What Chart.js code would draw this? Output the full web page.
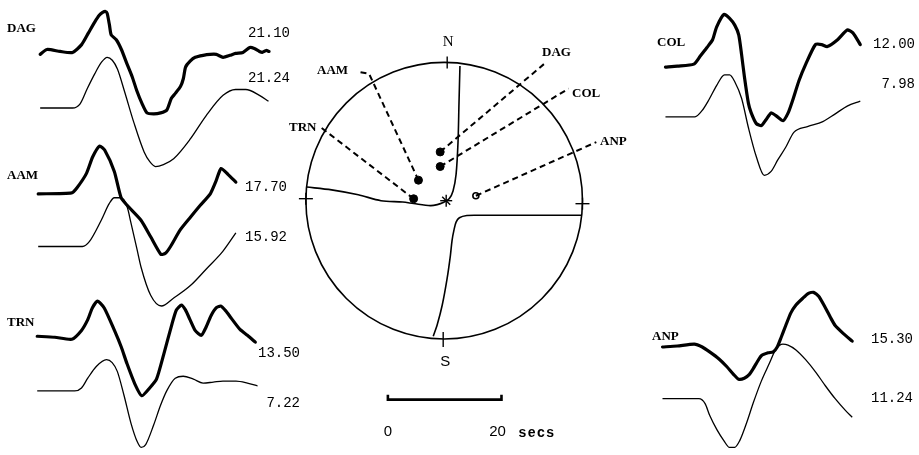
<!DOCTYPE html>
<html>
<head>
<meta charset="utf-8">
<script src="https://cdn.jsdelivr.net/npm/chart.js@4/dist/chart.umd.min.js"></script>
<style>
  html, body { margin: 0; padding: 0; background: #fff; }
  canvas { display: block; }
</style>
</head>
<body>
<canvas id="fig" width="919" height="455"></canvas>
<script>
// P waveforms: [time (s) from trace start, relative amplitude]
// heavy = observed record, light = synthetic
const DAG_OBS = [[0,0],[1.2,5],[3.5,3],[5.7,2],[7.3,10],[8.5,22],[9.6,33],[10.4,40],[11.0,43],[11.5,44],[11.8,42],[12.2,30],[12.5,20],[13.4,15],[14.3,5],[15.3,-10],[16.2,-23],[17.0,-37],[17.9,-50],[18.8,-60],[20.0,-61],[21.2,-60],[22.3,-57],[23.1,-45],[23.8,-40],[24.7,-33],[25.2,-25],[25.6,-13],[26.4,-7],[27.3,-3],[28.7,-1],[29.9,0],[31.0,0],[32.2,-3],[33.4,-1],[34.4,1],[35.7,2],[36.9,7],[37.7,6],[38.6,3],[39.1,2],[39.8,4],[40.3,3]];
const DAG_SYN = [[0,0],[5.7,0],[7.0,4],[8.3,20],[9.6,35],[10.8,47],[11.8,52],[12.7,49],[13.6,40],[14.8,18],[16.5,-15],[18.3,-45],[19.3,-55],[20.3,-60],[21.7,-58],[23.5,-52],[26.4,-32],[29.2,-8],[32.2,13],[34.4,19],[36.2,19],[38.6,13],[40.2,7]];

const AAM_OBS = [[0,0],[5.9,1],[6.8,6],[8.5,21],[9.6,38],[10.8,49],[11.7,45],[13.4,23],[14.6,-4],[15.7,-12],[18.1,-27],[19.8,-44],[21.6,-62],[22.4,-61],[23.3,-54],[25.0,-37],[26.8,-24],[28.5,-12],[30.3,0],[31.3,13],[32.2,26],[33.4,20],[34.8,12]];
const AAM_SYN = [[0,0],[7.8,0],[9.0,5],[11.1,27],[12.5,44],[13.4,50],[14.6,50],[15.7,40],[16.3,25],[17.4,-3],[18.1,-21],[19.8,-50],[21.7,-61],[23.8,-53],[26.8,-40],[29.6,-23],[32.5,-5],[34.8,14]];

const TRN_OBS = [[0,0],[3.1,-1],[6.1,-3],[7.8,6],[8.9,17],[9.7,29],[10.6,36],[11.8,29],[13.6,6],[14.8,-11],[15.8,-28],[17.2,-49],[18.4,-61],[19.8,-53],[21.0,-44],[22.3,-18],[23.7,12],[24.5,27],[25.4,32],[26.1,27],[26.9,17],[27.8,6],[28.9,1],[29.7,9],[30.6,21],[31.5,29],[32.3,31],[33.2,26],[34.1,19],[35.7,7],[37.0,1],[38.4,-6]];
const TRN_SYN = [[0,0],[6.6,0],[7.8,3],[8.9,13],[10.4,25],[12.2,32],[13.2,29],[14.1,20],[15.3,-5],[16.5,-33],[17.6,-52],[18.3,-58],[19.1,-55],[20.5,-35],[21.7,-15],[22.8,0],[24.3,13],[25.7,15],[27.5,12],[29.2,8],[31.0,9],[32.7,10],[35.0,10],[37.0,8],[38.8,5]];

const COL_OBS = [[0,0],[2.1,1],[5.0,3],[6.1,11],[7.3,20],[8.3,28],[9.0,41],[10.3,54],[11.3,50],[12.2,43],[12.9,33],[13.4,13],[13.9,-10],[14.6,-37],[15.1,-47],[16.0,-58],[16.9,-60],[17.7,-54],[18.6,-47],[19.5,-50],[20.7,-55],[21.6,-47],[22.4,-34],[23.5,-14],[24.7,3],[26.4,23],[27.5,23],[28.5,21],[30.3,28],[32.0,38],[33.0,35],[34.3,23]];
const COL_SYN = [[0,0],[5.2,0],[6.4,6],[7.7,18],[9.0,32],[10.4,43],[11.3,43],[12.2,36],[13.4,19],[14.6,-11],[16.0,-41],[17.4,-60],[18.6,-56],[19.8,-44],[21.2,-31],[22.6,-16],[25.0,-10],[27.7,-5],[29.9,3],[32.0,11],[34.3,16]];

const ANP_OBS = [[0,0],[2.6,1],[5.6,3],[7.0,0],[8.3,-5],[9.9,-12],[11.3,-20],[12.5,-28],[13.4,-33],[14.4,-32],[15.3,-28],[16.0,-22],[16.5,-17],[17.4,-9],[18.6,-6],[19.5,-5],[20.2,0],[20.9,10],[21.7,22],[22.6,35],[23.5,43],[24.7,50],[25.7,55],[26.6,56],[27.5,52],[28.7,40],[29.6,30],[30.4,22],[31.8,14],[33.4,6]];
const ANP_SYN = [[0,0],[6.4,0],[7.5,-5],[8.3,-17],[9.6,-32],[10.8,-43],[11.8,-50],[12.7,-50],[13.6,-43],[14.8,-25],[16.0,-4],[17.4,18],[18.8,36],[20.0,51],[21.2,56],[22.1,55],[23.5,50],[25.2,40],[27.0,27],[28.7,13],[30.4,0],[32.2,-12],[33.4,-19]];

// Stations and peak-to-peak amplitudes printed beside each trace
const STATIONS = ['DAG', 'AAM', 'TRN', 'COL', 'ANP'];
const OBS_AMPLITUDE = [21.10, 17.70, 13.50, 12.00, 15.30];
const SYN_AMPLITUDE = [21.24, 15.92, 7.22, 7.98, 11.24];

// Focal sphere (lower hemisphere, unit radius): nodal planes and station positions
const NODAL_PLANE_1 = [[0.114,0.986],[0.107,0.714],[0.100,0.429],[0.086,0.193],[0.064,0.071],[0.036,0.014],[-0.007,-0.014],[-0.050,-0.029],[-0.100,-0.036],[-0.221,-0.021],[-0.300,-0.010],[-0.457,0.000],[-0.621,0.043],[-0.814,0.079],[-0.995,0.100]];
const NODAL_PLANE_2 = [[0.994,-0.107],[0.564,-0.107],[0.250,-0.107],[0.164,-0.109],[0.110,-0.125],[0.086,-0.157],[0.071,-0.214],[0.057,-0.290],[0.045,-0.400],[0.021,-0.571],[-0.014,-0.764],[-0.050,-0.907],[-0.079,-0.993]];
const STATION_POINTS = { DAG: [-0.029,0.357], COL: [-0.029,0.250], AAM: [-0.186,0.150], TRN: [-0.221,0.014], ANP: [0.229,0.036] };
const DILATATION = ['ANP'];   // open symbol
const LEADER_ENDS = { DAG: [[0.721,1.000]], COL: [[0.900,0.821]], ANP: [[1.100,0.429]], AAM: [[-0.543,0.929],[-0.614,0.943]], TRN: [[-0.900,0.543]] };

// Time scale bar
const SCALE_BAR_SECS = [0, 20];

// ---- layout ----
const W = 919, H = 455;
const PX_PER_SEC = 5.75;
const PANELS = {
  DAG: { x0: 35,  base: 50,  gap: 55, name: [7, 29],   obsLab: [290, 33],  synLab: [290, 78] },
  AAM: { x0: 33,  base: 193, gap: 54, name: [7, 176],  obsLab: [287, 187], synLab: [287, 237] },
  TRN: { x0: 32,  base: 339, gap: 56, name: [7, 323],  obsLab: [300, 353], synLab: [300, 403] },
  COL: { x0: 668, base: 63,  gap: 51, name: [657, 43], obsLab: [915, 44],  synLab: [915, 84] },
  ANP: { x0: 665, base: 350, gap: 53, name: [652, 337], obsLab: [913, 339], synLab: [913, 398] }
};
const TRACES = {
  DAG: [DAG_OBS, DAG_SYN], AAM: [AAM_OBS, AAM_SYN], TRN: [TRN_OBS, TRN_SYN],
  COL: [COL_OBS, COL_SYN], ANP: [ANP_OBS, ANP_SYN]
};
const NET = { cx: 444, cy: 200, r: 140 };
const NET_LABELS = { DAG: [542, 53], COL: [572, 94], ANP: [600, 142], AAM: [317, 71], TRN: [289, 128] };
const BAR = { x0: 387, y: 404, tick: 5, labelY: 432 };

const LABEL_FONT = 'bold 13px "Liberation Serif"';
const NUM_FONT = '14px "Liberation Mono"';

// ---- scales: every group gets its own hidden axes spanning the canvas ----
const scales = {
  x: { type: 'linear', display: false },
  y: { type: 'linear', display: false }
};
STATIONS.forEach(s => {
  const p = PANELS[s];
  scales['x' + s] = { type: 'linear', axis: 'x', display: false, min: -p.x0 / PX_PER_SEC, max: (W - p.x0) / PX_PER_SEC };
  scales['y' + s] = { type: 'linear', axis: 'y', display: false, min: p.base - H, max: p.base };
});
scales.xNet = { type: 'linear', axis: 'x', display: false, min: -NET.cx / NET.r, max: (W - NET.cx) / NET.r };
scales.yNet = { type: 'linear', axis: 'y', display: false, min: -(H - NET.cy) / NET.r, max: NET.cy / NET.r };
scales.xBar = { type: 'linear', axis: 'x', display: false, min: -BAR.x0 / PX_PER_SEC, max: (W - BAR.x0) / PX_PER_SEC };
scales.yPage = { type: 'linear', axis: 'y', display: false, min: 0, max: H, reverse: true };

// ---- datasets ----
const datasets = [];
STATIONS.forEach(s => {
  const p = PANELS[s];
  const [obs, syn] = TRACES[s];
  datasets.push({
    label: s + ' observed', xAxisID: 'x' + s, yAxisID: 'y' + s,
    data: obs.map(([t, a]) => ({ x: t, y: a })),
    showLine: true, pointRadius: 0, borderColor: '#000', borderWidth: 3.2,
    tension: 0.2, borderJoinStyle: 'round', borderCapStyle: 'round'
  });
  datasets.push({
    label: s + ' synthetic', xAxisID: 'x' + s, yAxisID: 'y' + s,
    data: syn.map(([t, a]) => ({ x: t, y: a - p.gap })),
    showLine: true, pointRadius: 0, borderColor: '#000', borderWidth: 1.3,
    cubicInterpolationMode: 'monotone', borderJoinStyle: 'round'
  });
});

[NODAL_PLANE_1, NODAL_PLANE_2].forEach((pl, i) => datasets.push({
  label: 'nodal plane ' + (i + 1), xAxisID: 'xNet', yAxisID: 'yNet',
  data: pl.map(([u, v]) => ({ x: u, y: v })),
  showLine: true, pointRadius: 0, borderColor: '#000', borderWidth: 1.6,
  cubicInterpolationMode: 'default', tension: 0.3, borderJoinStyle: 'round'
}));

Object.keys(STATION_POINTS).forEach(s => {
  const p = STATION_POINTS[s];
  const pts = [p].concat(LEADER_ENDS[s]);
  datasets.push({
    label: s + ' leader', xAxisID: 'xNet', yAxisID: 'yNet',
    data: pts.map(([u, v]) => ({ x: u, y: v })),
    showLine: true, pointRadius: 0, borderColor: '#000', borderWidth: 2,
    borderDash: [6, 4], tension: 0
  });
});
Object.keys(STATION_POINTS).forEach(s => {
  const [u, v] = STATION_POINTS[s];
  const open = DILATATION.includes(s);
  datasets.push({
    label: s + ' polarity', xAxisID: 'xNet', yAxisID: 'yNet',
    data: [{ x: u, y: v }], showLine: false,
    pointRadius: open ? 3 : 4, pointStyle: 'circle',
    pointBackgroundColor: open ? '#fff' : '#000', pointBorderColor: '#000',
    pointBorderWidth: open ? 1.6 : 1
  });
});

datasets.push({
  label: 'time scale', xAxisID: 'xBar', yAxisID: 'yPage',
  data: [
    { x: SCALE_BAR_SECS[0], y: BAR.y - BAR.tick }, { x: SCALE_BAR_SECS[0], y: BAR.y },
    { x: SCALE_BAR_SECS[1], y: BAR.y }, { x: SCALE_BAR_SECS[1], y: BAR.y - BAR.tick }
  ],
  showLine: true, pointRadius: 0, borderColor: '#000', borderWidth: 2.6, tension: 0,
  borderJoinStyle: 'miter'
});

// ---- annotation plugin: focal-sphere outline, cardinal marks, all text ----
const figurePlugin = {
  id: 'figureText',
  afterDatasetsDraw(chart) {
    const ctx = chart.ctx;
    const xs = chart.scales.xNet, ys = chart.scales.yNet;
    const cx = xs.getPixelForValue(0), cy = ys.getPixelForValue(0);
    const r = xs.getPixelForValue(1) - cx;
    ctx.save();
    ctx.strokeStyle = '#000';
    ctx.fillStyle = '#000';
    ctx.lineWidth = 1.6;
    ctx.beginPath();
    ctx.arc(cx, cy, r, 0, Math.PI * 2);
    ctx.stroke();

    ctx.lineWidth = 1.4;
    const line = (x1, y1, x2, y2) => { ctx.beginPath(); ctx.moveTo(x1, y1); ctx.lineTo(x2, y2); ctx.stroke(); };
    // N and S ticks
    line(cx + 3, cy - r - 6, cx + 3, cy - r + 6);
    line(cx - 1, cy + r - 7, cx - 1, cy + r + 8);
    // E and W crosses
    line(cx - r - 7, cy - 2, cx - r + 7, cy - 2);
    line(cx - r, cy - 8, cx - r, cy + 4);
    line(cx + r - 7, cy + 3, cx + r + 7, cy + 3);
    line(cx + r, cy - 3, cx + r, cy + 9);
    // centre mark
    line(cx - 4, cy, cx + 8, cy);
    line(cx + 2, cy - 6, cx + 2, cy + 6);
    line(cx - 2, cy - 4, cx + 6, cy + 4);

    ctx.textBaseline = 'middle';
    // N / S
    ctx.textAlign = 'center';
    ctx.font = '15px "Liberation Serif"';
    ctx.fillText('N', cx + 4, cy - r - 20);
    ctx.font = '15px "Liberation Sans"';
    ctx.fillText('S', cx + 1, cy + r + 23);

    // station names beside the sphere
    ctx.font = LABEL_FONT;
    ctx.textAlign = 'left';
    Object.keys(NET_LABELS).forEach(s => {
      const [lx, ly] = NET_LABELS[s];
      ctx.fillText(s, lx, ly);
    });

    // waveform panels: station name and amplitudes
    STATIONS.forEach((s, i) => {
      const p = PANELS[s];
      ctx.font = LABEL_FONT;
      ctx.textAlign = 'left';
      ctx.fillText(s, p.name[0], p.name[1]);
      ctx.font = NUM_FONT;
      ctx.textAlign = 'right';
      ctx.fillText(OBS_AMPLITUDE[i].toFixed(2), p.obsLab[0], p.obsLab[1]);
      ctx.fillText(SYN_AMPLITUDE[i].toFixed(2), p.synLab[0], p.synLab[1]);
    });

    // time scale labels
    const xb = chart.scales.xBar;
    ctx.font = '15px "Liberation Sans"';
    ctx.textAlign = 'center';
    ctx.fillText(String(SCALE_BAR_SECS[0]), xb.getPixelForValue(SCALE_BAR_SECS[0]), BAR.labelY);
    ctx.fillText(String(SCALE_BAR_SECS[1]), xb.getPixelForValue(SCALE_BAR_SECS[1]) - 4, BAR.labelY);
    ctx.textAlign = 'left';
    ctx.font = 'bold 14px "Liberation Sans"';
    if ('letterSpacing' in ctx) ctx.letterSpacing = '1.5px';
    ctx.fillText('secs', xb.getPixelForValue(SCALE_BAR_SECS[1]) + 17, BAR.labelY + 1);
    ctx.restore();
  }
};

new Chart(document.getElementById('fig'), {
  type: 'scatter',
  data: { datasets },
  options: {
    responsive: false,
    animation: false,
    events: [],
    layout: { padding: 0 },
    scales,
    plugins: { legend: { display: false }, tooltip: { enabled: false }, title: { display: false } },
    elements: { line: { fill: false } }
  },
  plugins: [figurePlugin]
});
</script>
</body>
</html>
